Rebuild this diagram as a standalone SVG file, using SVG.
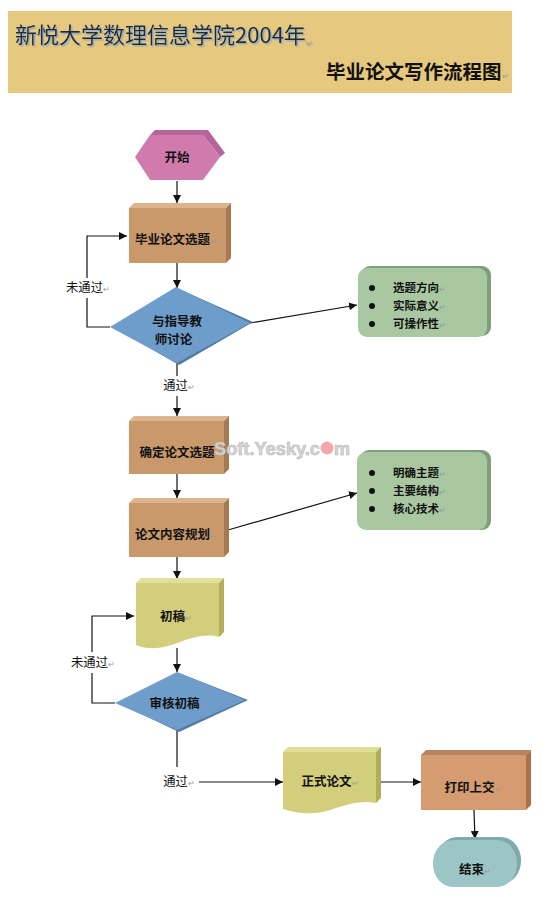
<svg xmlns="http://www.w3.org/2000/svg" width="560" height="897" viewBox="0 0 560 897">
<defs>
<style>
.cn{font-family:"Noto Sans CJK SC","Noto Sans",sans-serif;}
.nt{font-size:12.5px;font-weight:bold;fill:#111;text-anchor:middle;}
.lb{font-size:12.3px;fill:#111;text-anchor:middle;}
.gt{font-size:11.5px;font-weight:bold;fill:#111;}
.pm{font-size:8px;fill:#999;font-weight:normal;}
.ln{stroke:#111;stroke-width:1.2;fill:none;}
.arr{marker-end:url(#ah);}
.tan{fill:#c9996b;}
.tanT{fill:#dcb48e;}
.tanR{fill:#a57a52;}
.grn{fill:#a9c8a2;}
.ylw{fill:#d2ce7c;}
.ylwT{fill:#e2df9c;}
.ylwR{fill:#b1ad58;}
.blu{fill:#6e9dcb;}
</style>
<marker id="ah" viewBox="0 0 10 10" refX="10" refY="5" markerWidth="8" markerHeight="8" markerUnits="userSpaceOnUse" orient="auto">
<path d="M0,0 L10,5 L0,10 Z" fill="#111"/>
</marker>
<filter id="ts" x="-5%" y="-20%" width="110%" height="150%">
<feDropShadow dx="1.5" dy="1.5" stdDeviation="0.6" flood-color="#8aa6c4" flood-opacity="0.9"/>
</filter>
</defs>
<rect width="560" height="897" fill="#ffffff"/>

<g id="header">
<rect x="8" y="11" width="504" height="82" fill="#e6c87e"/>
<text class="cn" x="15" y="43" font-size="22" fill="#1e2b3d" filter="url(#ts)">新悦大学数理信息学院2004年<tspan class="pm" dy="3">↵</tspan></text>
<text class="cn" x="326" y="79" font-size="19.5" font-weight="bold" fill="#111">毕业论文写作流程图<tspan class="pm">↵</tspan></text>
</g>

<g id="connectors">
<line class="ln arr" x1="177" y1="181" x2="177" y2="203"/>
<line class="ln arr" x1="177" y1="263" x2="177" y2="288"/>
<polyline class="ln" points="110,327 87,327 87,298"/>
<polyline class="ln arr" points="87,278 87,236 127,236"/>
<line class="ln arr" x1="250" y1="323" x2="357" y2="305"/>
<line class="ln" x1="177" y1="363" x2="177" y2="376"/>
<line class="ln arr" x1="177" y1="396" x2="177" y2="416"/>
<line class="ln arr" x1="177" y1="474" x2="177" y2="498"/>
<line class="ln arr" x1="228" y1="530" x2="357" y2="493"/>
<line class="ln arr" x1="177" y1="557" x2="177" y2="579"/>
<line class="ln arr" x1="177" y1="648" x2="177" y2="672"/>
<polyline class="ln" points="115,703 92,703 92,673"/>
<polyline class="ln arr" points="92,652 92,616 134,616"/>
<line class="ln" x1="177" y1="730" x2="177" y2="767"/>
<line class="ln arr" x1="199" y1="782" x2="283" y2="782"/>
<line class="ln arr" x1="380" y1="782" x2="421" y2="782"/>
<line class="ln arr" x1="474" y1="810" x2="475" y2="839"/>
<text class="cn lb" x="88" y="292">未通过<tspan class="pm">↵</tspan></text>
<text class="cn lb" x="179" y="390">通过<tspan class="pm">↵</tspan></text>
<text class="cn lb" x="93" y="667">未通过<tspan class="pm">↵</tspan></text>
<text class="cn lb" x="179" y="786">通过<tspan class="pm">↵</tspan></text>
</g>

<g id="n-start">
<polygon points="150,135 155,130 208,130 225,153 220,157 203,135" fill="#b5659a"/>
<polygon points="135,157 150,135 203,135 220,157 203,180 150,180" fill="#d07aae"/>
<text class="cn nt" x="177" y="162">开始</text>
</g>

<g id="n-select">
<polygon class="tanT" points="129,208 134,203 231,203 226,208"/>
<polygon class="tanR" points="226,208 231,203 231,258 226,263"/>
<rect class="tan" x="129" y="208" width="97" height="55"/>
<text class="cn nt" x="176" y="244">毕业论文选题<tspan class="pm">↵</tspan></text>
</g>

<g id="n-discuss">
<polygon points="113,327 179,289 253,322 179,365" fill="#54799f"/>
<polygon class="blu" points="110,327 176,287 250,323 177,363"/>
<text class="cn nt" x="177" y="326">与指导教</text>
<text class="cn nt" x="177" y="344">师讨论<tspan class="pm">↵</tspan></text>
</g>

<g id="n-points1">
<rect x="361" y="266" width="130" height="70" rx="9" fill="#7f9f7a"/>
<rect class="grn" x="358" y="268" width="129" height="69" rx="9"/>
<circle cx="372" cy="288" r="3" fill="#111"/>
<circle cx="372" cy="306" r="3" fill="#111"/>
<circle cx="372" cy="324" r="3" fill="#111"/>
<text class="cn gt" x="393" y="292">选题方向<tspan class="pm">↵</tspan></text>
<text class="cn gt" x="393" y="310">实际意义<tspan class="pm">↵</tspan></text>
<text class="cn gt" x="393" y="328">可操作性<tspan class="pm">↵</tspan></text>
</g>

<g id="n-confirm">
<polygon class="tanT" points="129,421 134,416 229,416 224,421"/>
<polygon class="tanR" points="224,421 229,416 229,469 224,474"/>
<rect class="tan" x="129" y="421" width="95" height="53"/>
<text class="cn nt" x="177" y="457">确定论文选题</text>
</g>

<g id="n-plan">
<polygon class="tanT" points="129,503 134,498 229,498 224,503"/>
<polygon class="tanR" points="224,503 229,498 229,552 224,557"/>
<rect class="tan" x="129" y="503" width="95" height="54"/>
<text class="cn nt" x="176" y="539">论文内容规划<tspan class="pm">↵</tspan></text>
</g>

<g id="n-points2">
<rect x="360" y="450" width="131" height="80" rx="9" fill="#7f9f7a"/>
<rect class="grn" x="357" y="452" width="130" height="78" rx="9"/>
<circle cx="372" cy="473" r="3" fill="#111"/>
<circle cx="372" cy="491" r="3" fill="#111"/>
<circle cx="372" cy="509" r="3" fill="#111"/>
<text class="cn gt" x="393" y="477">明确主题<tspan class="pm">↵</tspan></text>
<text class="cn gt" x="393" y="495">主要结构<tspan class="pm">↵</tspan></text>
<text class="cn gt" x="393" y="513">核心技术<tspan class="pm">↵</tspan></text>
</g>

<g id="watermark">
<text x="214" y="455" textLength="106" lengthAdjust="spacingAndGlyphs" font-family="Liberation Sans,Arial,sans-serif" font-size="18" font-weight="bold" fill="#d6d6d6" stroke="#b8b8b8" stroke-width="0.6">Soft.Yesky.c</text>
<circle cx="327" cy="448" r="6.5" fill="#f2a8a8"/>
<text x="334" y="455" font-family="Liberation Sans,Arial,sans-serif" font-size="18" font-weight="bold" fill="#d6d6d6" stroke="#b8b8b8" stroke-width="0.6">m</text>
</g>

<g id="n-draft">
<polygon class="ylwT" points="136,583 141,578 224,578 219,583"/>
<path class="ylwR" d="M219,583 L224,578 L224,632 L219,637 Z"/>
<path class="ylw" d="M136,583 L219,583 L219,637 C208,634 195,636 180,642 C165,648 150,651 136,645 Z"/>
<text class="cn nt" x="176" y="621">初稿<tspan class="pm">↵</tspan></text>
</g>

<g id="n-review">
<polygon points="118,703 179,673 248,700 179,732" fill="#54799f"/>
<polygon class="blu" points="115,703 177,672 245,700 177,730"/>
<text class="cn nt" x="178" y="708">审核初稿<tspan class="pm">↵</tspan></text>
</g>

<g id="n-final">
<polygon class="ylwT" points="283,752 288,747 381,747 376,752"/>
<path class="ylwR" d="M376,752 L381,747 L381,798 L376,803 Z"/>
<path class="ylw" d="M283,752 L376,752 L376,803 C362,800 348,804 330,810 C315,815 298,814 283,809 Z"/>
<text class="cn nt" x="330" y="786">正式论文<tspan class="pm">↵</tspan></text>
</g>

<g id="n-submit">
<polygon points="421,755 426,750 531,750 526,755" fill="#b88462"/>
<polygon points="526,755 531,750 531,805 526,810" fill="#a8714c"/>
<rect x="421" y="755" width="105" height="55" fill="#d49c70"/>
<text class="cn nt" x="473" y="792">打印上交<tspan class="pm">↵</tspan></text>
</g>

<g id="n-end">
<rect x="437" y="837" width="84" height="47" rx="20" ry="23" fill="#7eaaac"/>
<rect x="433" y="840" width="84" height="47" rx="20" ry="23" fill="#9cc5c6"/>
<text class="cn nt" x="475" y="874">结束<tspan class="pm">↵</tspan></text>
</g>
</svg>
